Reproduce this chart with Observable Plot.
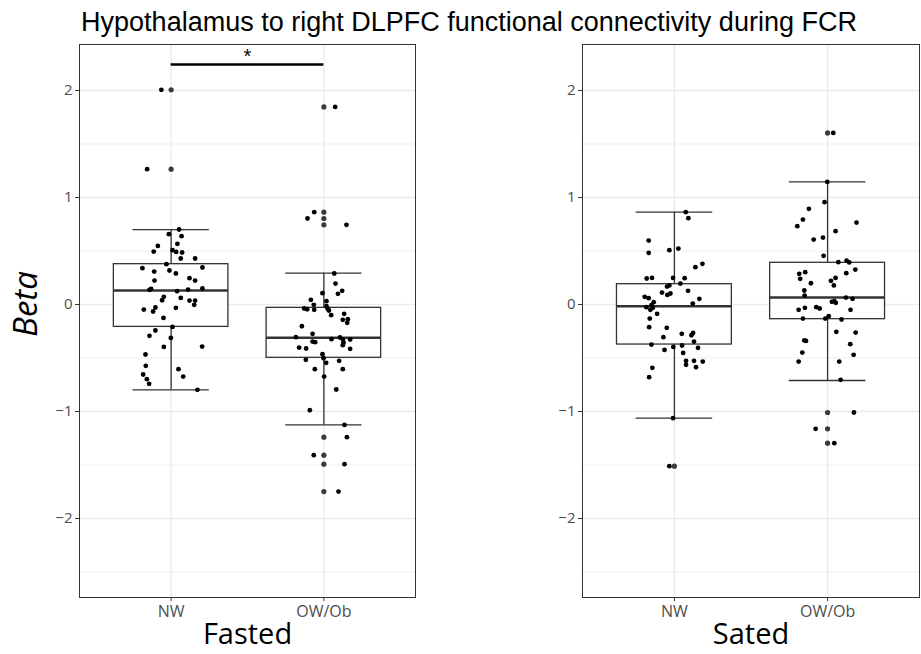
<!DOCTYPE html>
<html>
<head>
<meta charset="utf-8">
<script src="https://cdn.jsdelivr.net/npm/d3@7"></script>
<script src="https://cdn.jsdelivr.net/npm/@observablehq/plot@0.6"></script>
<style>
  body { margin: 0; background: #fff; }
  #title { height: 40px; line-height: 44px; font-family: "Liberation Sans", Arial, sans-serif; font-size: 27px; color: #000; text-align: center; padding-left: 17px; white-space: nowrap; }
  #row { display: flex; }
</style>
</head>
<body>
<div id="title">Hypothalamus to right DLPFC functional connectivity during FCR</div>
<div id="row"></div>
<script>
// ---- data ----
const categories = ["NW", "OW/Ob"];
const conditions = ["Fasted", "Sated"];
const yTicks = [-2, -1, 0, 1, 2];

// box statistics: [lower whisker, Q1, median, Q3, upper whisker]
const boxFastedNW   = [-0.797, -0.209, 0.131, 0.377, 0.700];
const boxFastedOW   = [-1.125, -0.498, -0.311, -0.031, 0.293];
const boxSatedNW    = [-1.062, -0.374, -0.016, 0.190, 0.863];
const boxSatedOW    = [-0.710, -0.137, 0.065, 0.390, 1.146];

// outliers (boxplot)
const outFastedNW = [2.006, 1.265];
const outFastedOW = [1.847, 0.863, 0.804, 0.745, -1.240, -1.408, -1.492, -1.748];
const outSatedNW  = [-1.511];
const outSatedOW  = [1.604, -1.009, -1.162, -1.296];

// jittered observations: beta values and horizontal jitter offsets
const betaFastedNW = [2.006,1.265,0.701,0.657,0.639,0.548,0.567,0.495,0.508,0.492,0.486,0.430,0.430,0.377,0.340,0.308,0.318,0.290,0.346,0.246,0.224,0.224,0.137,0.146,0.125,0.140,0.150,0.072,0.040,0.062,0.037,0.037,-0.003,-0.047,-0.028,-0.065,-0.031,-0.125,-0.209,-0.243,-0.293,-0.312,-0.396,-0.393,-0.467,-0.573,-0.604,-0.654,-0.698,-0.673,-0.741,-0.797];
const jitFastedNW  = [-0.064,-0.157,0.052,-0.015,0.068,-0.087,0.041,-0.114,0.009,0.033,0.072,0.063,0.157,-0.031,-0.188,-0.111,-0.011,0.031,0.205,0.120,0.157,-0.109,-0.142,-0.131,0.039,0.111,0.205,-0.048,-0.059,0.063,0.120,0.157,0.151,-0.179,-0.103,-0.118,0.031,-0.050,0.009,-0.103,-0.142,-0.002,-0.048,0.203,-0.168,-0.166,0.048,-0.183,-0.159,0.079,-0.144,0.172];

const betaFastedOW = [1.847,0.863,0.804,0.745,0.290,0.196,0.100,0.128,0.106,0.044,0.031,-0.003,-0.016,-0.037,-0.044,-0.050,-0.037,-0.056,-0.100,-0.087,-0.143,-0.137,-0.171,-0.203,-0.274,-0.305,-0.346,-0.352,-0.324,-0.308,-0.327,-0.327,-0.380,-0.355,-0.402,-0.411,-0.414,-0.464,-0.502,-0.517,-0.545,-0.526,-0.604,-0.604,-0.673,-0.794,-0.988,-1.125,-1.240,-1.408,-1.492,-1.748];
const jitFastedOW  = [0.074,-0.063,-0.107,0.148,0.068,0.076,0.092,0.120,-0.009,-0.085,0.017,-0.066,0.017,-0.129,-0.109,-0.063,0.024,0.033,0.048,0.133,0.124,0.157,0.153,-0.144,-0.074,-0.183,-0.074,-0.057,0.050,0.105,0.124,0.172,0.124,0.129,-0.162,-0.116,0.172,-0.009,-0.002,-0.118,0.015,0.100,-0.059,0.124,0.002,0.081,-0.092,0.135,0.151,-0.066,0.135,0.096];

const betaSatedNW = [0.863,0.807,0.598,0.483,0.508,0.523,0.349,0.380,0.243,0.249,0.249,0.246,0.196,0.168,0.178,0.112,0.090,0.103,0.128,0.072,0.059,0.053,0.009,0.022,-0.006,-0.025,-0.031,-0.050,-0.087,-0.131,-0.212,-0.218,-0.274,-0.287,-0.265,-0.305,-0.346,-0.374,-0.405,-0.424,-0.396,-0.383,-0.452,-0.526,-0.564,-0.526,-0.533,-0.586,-0.592,-0.679,-1.062,-1.511];
const jitSatedNW  = [0.074,0.091,-0.168,-0.168,-0.033,0.026,0.137,0.183,-0.181,-0.146,-0.009,0.067,0.039,-0.048,-0.033,-0.081,-0.046,-0.026,0.089,-0.194,-0.168,0.163,0.120,-0.135,-0.150,-0.183,-0.141,-0.157,-0.113,-0.161,-0.165,-0.050,0.048,0.111,0.122,-0.072,0.128,-0.150,0.154,-0.065,-0.007,0.050,0.057,0.076,0.076,0.128,0.185,0.141,-0.144,-0.165,-0.009,-0.033];

const betaSatedOW = [1.604,1.146,0.956,0.894,0.794,0.732,0.766,0.685,0.607,0.626,0.455,0.396,0.411,0.393,0.327,0.287,0.302,0.293,0.240,0.199,0.221,0.249,0.178,0.131,0.084,0.065,0.053,0.025,0.016,0.031,-0.050,-0.031,-0.025,-0.037,-0.050,-0.109,-0.131,-0.131,-0.140,-0.255,-0.262,-0.336,-0.340,-0.371,-0.449,-0.470,-0.533,-0.533,-0.704,-1.009,-1.162,-1.296];
const jitSatedOW  = [0.037,-0.002,-0.020,-0.122,-0.161,-0.198,0.189,0.052,-0.091,-0.030,-0.026,0.070,0.124,0.141,0.181,-0.185,-0.146,0.122,-0.179,-0.109,0.022,0.052,0.041,-0.152,-0.150,0.120,0.163,0.028,0.054,0.044,-0.189,-0.148,-0.074,-0.052,0.150,0.007,-0.015,-0.161,0.091,0.057,0.183,-0.152,-0.141,0.148,-0.165,0.170,-0.189,0.076,0.085,0.172,-0.078,0.044];

// significance annotation (Fasted panel): bar height and label
const sigBar = {from: "NW", to: "OW/Ob", y: 2.243, label: "*"};

// ---- build tables ----
function groupTables(boxes, outs, betas, jits) {
  const box = [], out = [], pts = [];
  categories.forEach((c, i) => {
    const pos = i + 1;
    const [lo, q1, med, q3, hi] = boxes[i];
    box.push({pos, lo, q1, med, q3, hi});
    outs[i].forEach(v => out.push({pos, v}));
    betas[i].forEach((v, k) => pts.push({x: pos + jits[i][k], v}));
  });
  return {box, out, pts};
}

const panels = [
  {name: conditions[0], ...groupTables([boxFastedNW, boxFastedOW], [outFastedNW, outFastedOW], [betaFastedNW, betaFastedOW], [jitFastedNW, jitFastedOW]), sig: true,
   width: 420, marginLeft: 79, marginRight: 5},
  {name: conditions[1], ...groupTables([boxSatedNW, boxSatedOW], [outSatedNW, outSatedOW], [betaSatedNW, betaSatedOW], [jitSatedNW, jitSatedOW]), sig: false,
   width: 501, marginLeft: 162, marginRight: 2}
];

const font = "'Open Sans', 'Noto Sans', sans-serif";
const row = document.getElementById("row");

panels.forEach((p) => {
  const marks = [
    Plot.gridY([-2.5, -1.5, -0.5, 0.5, 1.5], {stroke: "#ebebeb", strokeOpacity: 1, strokeWidth: 0.8}),
    Plot.gridY(yTicks, {stroke: "#ebebeb", strokeOpacity: 1, strokeWidth: 1.4}),
    Plot.gridX([1, 2], {stroke: "#ebebeb", strokeOpacity: 1, strokeWidth: 1.4}),
    Plot.axisY(yTicks, {tickSize: 4, tickPadding: 3, fontSize: 15, fill: "#4d4d4d", stroke: "#333", label: null, fontFamily: font, tickFormat: d => d3.format("")(d).replace("-", "\u2212")}),
    Plot.axisX([1, 2], {tickSize: 4, tickPadding: 4, fontSize: 16, fill: "#4d4d4d", stroke: "#333", label: null, fontFamily: font, tickFormat: d => categories[d - 1]}),
    // whiskers (errorbar)
    Plot.ruleX(p.box, {x: "pos", y1: "lo", y2: "hi", stroke: "#333", strokeWidth: 1.3}),
    Plot.ruleY(p.box, {y: "lo", x1: d => d.pos - 0.25, x2: d => d.pos + 0.25, stroke: "#333", strokeWidth: 1.3}),
    Plot.ruleY(p.box, {y: "hi", x1: d => d.pos - 0.25, x2: d => d.pos + 0.25, stroke: "#333", strokeWidth: 1.3}),
    // boxes
    Plot.rect(p.box, {x1: d => d.pos - 0.375, x2: d => d.pos + 0.375, y1: "q1", y2: "q3", fill: "white", stroke: "#333", strokeWidth: 1.3}),
    Plot.ruleY(p.box, {y: "med", x1: d => d.pos - 0.375, x2: d => d.pos + 0.375, stroke: "#333", strokeWidth: 2.6}),
    // outliers
    Plot.dot(p.out, {x: "pos", y: "v", r: 2.6, fill: "#3a3a3a", stroke: "none"}),
    // jittered points
    Plot.dot(p.pts, {x: "x", y: "v", r: 2.4, fill: "#000", stroke: "none"}),
    Plot.frame({stroke: "#333", strokeWidth: 1}),
    Plot.text([p.name], {frameAnchor: "bottom", dy: 37, fontSize: 29, fill: "#000", fontFamily: font, lineAnchor: "middle"})
  ];
  if (p.sig) {
    const x1 = categories.indexOf(sigBar.from) + 1, x2 = categories.indexOf(sigBar.to) + 1;
    marks.push(Plot.ruleY([sigBar], {y: "y", x1: () => x1, x2: () => x2, stroke: "#000", strokeWidth: 2.6}));
    marks.push(Plot.text([sigBar], {x: () => (x1 + x2) / 2, y: "y", text: "label", dy: -8, fontSize: 20, fill: "#000", fontFamily: "'Liberation Sans', sans-serif"}));
    marks.push(Plot.text(["Beta"], {frameAnchor: "left", textAnchor: "middle", dx: -53, dy: -17, rotate: -90, fontSize: 33, fontStyle: "italic", fill: "#000", fontFamily: font}));
  }
  const chart = Plot.plot({
    width: p.width,
    height: 614,
    marginLeft: p.marginLeft,
    marginRight: p.marginRight,
    marginTop: 4,
    marginBottom: 57,
    style: {background: "white", overflow: "visible"},
    x: {type: "linear", domain: [0.4, 2.6], axis: null},
    y: {domain: [-2.738, 2.430], axis: null},
    marks
  });
  row.appendChild(chart);
});
</script>
</body>
</html>
